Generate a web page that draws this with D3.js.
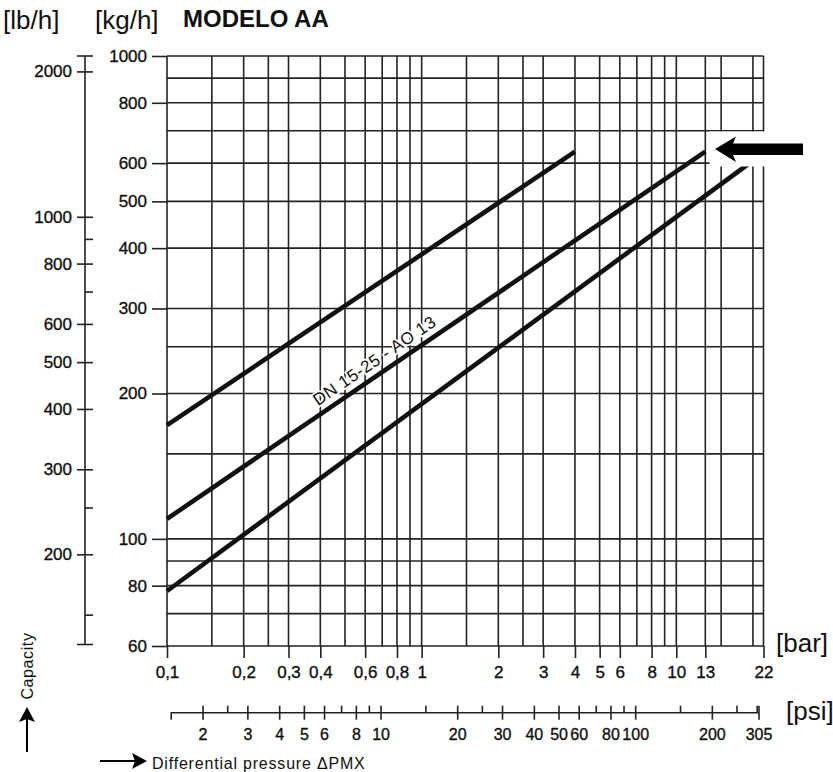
<!DOCTYPE html>
<html>
<head>
<meta charset="utf-8">
<script src="https://cdn.jsdelivr.net/npm/d3@7"></script>
<style>
  body { margin: 0; background: #fff; }
  text { font-family: "Liberation Sans", Arial, sans-serif; fill: #111; }
  .num { stroke: #111; stroke-width: 0.35px; }
</style>
</head>
<body>
<svg id="chart" width="833" height="772"></svg>
<script>
// bar axis (x) : labelled ticks and grid lines
var barTicks = [0.1, 0.2, 0.3, 0.4, 0.6, 0.8, 1, 2, 3, 4, 5, 6, 8, 10, 13, 22];
var barGrid = [0.1, 0.15, 0.2, 0.25, 0.3, 0.4, 0.5, 0.6, 0.7, 0.8, 0.9, 1, 1.5, 2, 2.5, 3, 4, 5, 6, 7, 8, 9, 10, 13, 15, 20, 22];
// kg/h axis (y)
var kgTicks = [60, 80, 100, 200, 300, 400, 500, 600, 800, 1000];
var kgGrid = [60, 70, 80, 90, 100, 150, 200, 250, 300, 400, 500, 600, 700, 800, 900, 1000];
// lb/h secondary axis
var lbTicks = [200, 300, 400, 500, 600, 800, 1000, 2000];
var lbMinor = [150, 250, 700, 900];
// psi secondary axis
var psiTicks = [2, 3, 4, 5, 6, 8, 10, 20, 30, 40, 50, 60, 80, 100, 200, 305];
var psiMinor = [1.5, 2.5, 7, 9, 15, 25, 70, 90, 150, 250, 300];
// capacity curves: [start, end] in bar and kg/h
var curveNames = ["", "DN 15-25 - AO 13", ""];
var curveBar = [[0.1, 4], [0.1, 13], [0.1, 22]];
var curveKg = [[172, 634], [110, 634], [78, 630]];
var labelBar = 0.7;

var LB_PER_KG = 2.20462, PSI_PER_BAR = 14.5038;
var ink = "#222";
var gridW = 1.6;

var svg = d3.select("#chart");

var x = d3.scaleLog().domain([0.1, 22]).range([167, 763.5]);
var y = d3.scaleLog().domain([60, 1000]).range([646, 56]);
var yLb = d3.scaleLog().domain([60 * LB_PER_KG, 1000 * LB_PER_KG]).range([641, 51]);
var xPsi = d3.scaleLog().domain(x.domain().map(function(b) { return b * PSI_PER_BAR; })).range(x.range());

var commaFmt = function(d) { return String(d).replace(".", ","); };

// grid
var grid = svg.append("g").attr("stroke", ink).attr("stroke-width", gridW);
grid.selectAll("line.v").data(barGrid).enter().append("line")
    .attr("class", "v")
    .attr("x1", function(d) { return x(d); })
    .attr("x2", function(d) { return x(d); })
    .attr("y1", y(1000))
    .attr("y2", y(60));
grid.selectAll("line.h").data(kgGrid).enter().append("line")
    .attr("class", "h")
    .attr("x1", x(0.1))
    .attr("x2", x(22))
    .attr("y1", function(d) { return y(d); })
    .attr("y2", function(d) { return y(d); });

// curves
var curves = svg.append("g");
curveBar.forEach(function(b, i) {
    curves.append("line")
        .attr("x1", x(b[0])).attr("y1", y(curveKg[i][0]))
        .attr("x2", x(b[1])).attr("y2", y(curveKg[i][1]))
        .attr("stroke", "#111")
        .attr("stroke-width", 4.6);

    if (curveNames[i]) {
        // place the label on the line, in log space
        var t = Math.log(labelBar / b[0]) / Math.log(b[1] / b[0]);
        var kg = curveKg[i][0] * Math.pow(curveKg[i][1] / curveKg[i][0], t);
        var dx = x(b[1]) - x(b[0]), dy = y(curveKg[i][1]) - y(curveKg[i][0]);
        var ang = Math.atan2(dy, dx) * 180 / Math.PI;
        curves.append("text")
            .attr("transform", "translate(" + x(labelBar) + "," + y(kg) + ") rotate(" + ang + ")")
            .attr("y", -8)
            .attr("text-anchor", "middle")
            .attr("font-size", "17px")
            .attr("letter-spacing", "0.6px")
            .attr("stroke", "#fff")
            .attr("stroke-width", 3.5)
            .attr("paint-order", "stroke")
            .text(curveNames[i]);
    }
});

// white patch behind the arrow
svg.append("rect")
    .attr("x", 709.5).attr("y", 131.5)
    .attr("width", 57).attr("height", 35)
    .attr("fill", "#fff");

svg.append("path")
    .attr("d", "M715,149 L736,136.5 L733,143.5 L803,143.5 L803,155 L733,155 L736,162 Z")
    .attr("fill", "#000");

// bar axis
var xAxis = svg.append("g")
    .attr("transform", "translate(0," + y(60) + ")")
    .call(d3.axisBottom(x).tickValues(barTicks).tickFormat(commaFmt).tickSize(12).tickPadding(8));
xAxis.select(".domain").remove();
xAxis.selectAll("line").attr("stroke", ink).attr("stroke-width", gridW);
xAxis.selectAll("text").attr("class", "num").attr("font-size", "17px").attr("font-family", null).attr("fill", "#111");

// kg/h axis
var yAxis = svg.append("g")
    .attr("transform", "translate(" + x(0.1) + ",0)")
    .call(d3.axisLeft(y).tickValues(kgTicks).tickFormat(d3.format("d")).tickSize(15).tickPadding(5));
yAxis.select(".domain").remove();
yAxis.selectAll("line").attr("stroke", ink).attr("stroke-width", gridW);
yAxis.selectAll("text").attr("class", "num").attr("font-size", "17px").attr("font-family", null).attr("fill", "#111");

// lb/h axis
var lbX = 85;
var lbG = svg.append("g").attr("stroke", ink).attr("stroke-width", gridW);
lbG.append("line").attr("x1", lbX).attr("x2", lbX).attr("y1", y(1000)).attr("y2", y(60) - 1.5);
lbG.append("line").attr("x1", lbX - 8).attr("x2", lbX + 8).attr("y1", y(1000)).attr("y2", y(1000));
lbG.append("line").attr("x1", lbX - 8).attr("x2", lbX + 8).attr("y1", y(60) - 1.5).attr("y2", y(60) - 1.5);

var lbAxis = svg.append("g")
    .attr("transform", "translate(" + (lbX + 8) + ",0)")
    .call(d3.axisLeft(yLb).tickValues(lbTicks).tickFormat(d3.format("d")).tickSize(16).tickPadding(5));
lbAxis.select(".domain").remove();
lbAxis.selectAll("line").attr("stroke", ink).attr("stroke-width", gridW);
lbAxis.selectAll("text").attr("class", "num").attr("font-size", "17px").attr("font-family", null).attr("fill", "#111");

var lbMinorAxis = svg.append("g")
    .attr("transform", "translate(" + (lbX + 8) + ",0)")
    .call(d3.axisLeft(yLb).tickValues(lbMinor).tickFormat("").tickSize(8));
lbMinorAxis.select(".domain").remove();
lbMinorAxis.selectAll("line").attr("stroke", ink).attr("stroke-width", gridW);

// psi axis
var psiY = 712.7;
svg.append("line")
    .attr("x1", xPsi(1.5)).attr("x2", xPsi(305))
    .attr("y1", psiY).attr("y2", psiY)
    .attr("stroke", ink).attr("stroke-width", gridW);

var psiAxis = svg.append("g")
    .attr("transform", "translate(0," + psiY + ")")
    .call(d3.axisBottom(xPsi).tickValues(psiTicks).tickFormat(d3.format("d")).tickSize(7).tickPadding(9));
psiAxis.select(".domain").remove();
psiAxis.selectAll("line").attr("y1", -7).attr("stroke", ink).attr("stroke-width", gridW);
psiAxis.selectAll("text").attr("class", "num").attr("font-size", "16px").attr("font-family", null).attr("fill", "#111");

var psiMinorAxis = svg.append("g")
    .attr("transform", "translate(0," + psiY + ")")
    .call(d3.axisBottom(xPsi).tickValues(psiMinor).tickFormat("").tickSize(-7));
psiMinorAxis.select(".domain").remove();
psiMinorAxis.selectAll("line").attr("stroke", ink).attr("stroke-width", gridW);
// first minor tick is the end cap, crossing the line
psiMinorAxis.selectAll("line").filter(function(d) { return d === 1.5; }).attr("y2", 7);

// titles and units
svg.append("text").attr("x", 3).attr("y", 29).attr("font-size", "26px").text("[lb/h]");
svg.append("text").attr("x", 95).attr("y", 29).attr("font-size", "26px").text("[kg/h]");
svg.append("text").attr("x", 183).attr("y", 27).attr("font-size", "24px").attr("font-weight", "bold").text("MODELO AA");
svg.append("text").attr("x", 776).attr("y", 652).attr("font-size", "26px").text("[bar]");
svg.append("text").attr("x", 786).attr("y", 720).attr("font-size", "26px").text("[psi]");

// capacity / pressure captions with arrows
svg.append("text")
    .attr("transform", "translate(33,666) rotate(-90)")
    .attr("text-anchor", "middle")
    .attr("font-size", "16px")
    .attr("letter-spacing", "0.6px")
    .text("Capacity");
svg.append("line").attr("x1", 27).attr("x2", 27).attr("y1", 752).attr("y2", 718)
    .attr("stroke", "#000").attr("stroke-width", 2);
svg.append("path").attr("d", "M27,707 L35,722 L27,719 L19,722 Z").attr("fill", "#000");

svg.append("line").attr("x1", 100).attr("x2", 136).attr("y1", 761).attr("y2", 761)
    .attr("stroke", "#000").attr("stroke-width", 2);
svg.append("path").attr("d", "M147,761 L132,769 L135,761 L132,753 Z").attr("fill", "#000");
svg.append("text")
    .attr("x", 152).attr("y", 769)
    .attr("font-size", "16px")
    .attr("letter-spacing", "0.8px")
    .text("Differential pressure \u0394PMX");
</script>
</body>
</html>
